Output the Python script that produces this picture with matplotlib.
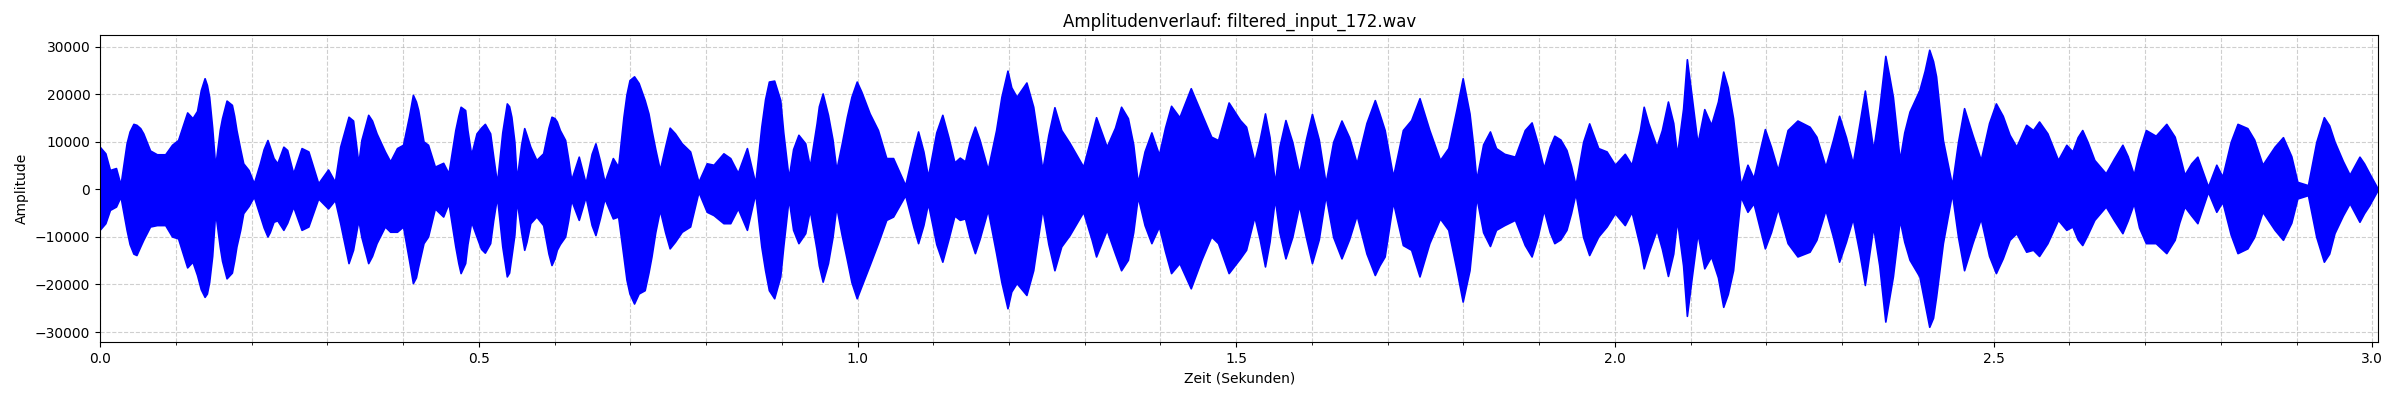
import numpy as np
import matplotlib
matplotlib.use('Agg')
import matplotlib.pyplot as plt
from matplotlib.ticker import MultipleLocator

# envelope of the waveform (time in s, amplitude in thousands)
zeit = [
    0.000, 0.007, 0.013, 0.021, 0.027, 0.035, 0.044, 0.048, 0.057, 0.066,
    0.075, 0.086, 0.095, 0.103, 0.115, 0.122, 0.128, 0.138, 0.144, 0.152,
    0.161, 0.167, 0.174, 0.180, 0.189, 0.196, 0.203, 0.211, 0.221, 0.229,
    0.234, 0.242, 0.247, 0.255, 0.266, 0.275, 0.288, 0.301, 0.310, 0.317,
    0.328, 0.334, 0.341, 0.345, 0.354, 0.365, 0.376,
    0.383, 0.392, 0.400, 0.413, 0.420, 0.427, 0.433, 0.442, 0.453, 0.460,
    0.469, 0.476, 0.482, 0.490, 0.497, 0.508, 0.515, 0.524, 0.537, 0.543,
    0.550, 0.560, 0.568, 0.576, 0.585, 0.596, 0.603, 0.614, 0.622, 0.632,
    0.641, 0.654, 0.666, 0.677, 0.684, 0.691, 0.699, 0.705, 0.711, 0.719,
    0.728, 0.739, 0.752,
    0.759, 0.768, 0.779, 0.790, 0.801, 0.810, 0.823, 0.832, 0.842, 0.854,
    0.865, 0.873, 0.883, 0.890, 0.898, 0.909, 0.922, 0.931, 0.937, 0.946,
    0.954, 0.961, 0.972, 0.986, 0.999, 1.005, 1.016, 1.027, 1.038, 1.047,
    1.063, 1.080, 1.093, 1.112, 1.128,
    1.135, 1.142, 1.155, 1.172, 1.183, 1.198, 1.210, 1.223, 1.232, 1.244,
    1.260, 1.269, 1.280, 1.298, 1.315, 1.329, 1.348, 1.357, 1.370, 1.388,
    1.398, 1.414, 1.425, 1.440, 1.454, 1.467, 1.476, 1.490, 1.505,
    1.513, 1.524, 1.538, 1.551, 1.565, 1.583, 1.600, 1.618, 1.639, 1.659,
    1.683, 1.696, 1.707, 1.720, 1.731, 1.742, 1.755, 1.769, 1.780, 1.799,
    1.808, 1.817, 1.835, 1.843, 1.854, 1.868, 1.881,
    1.890, 1.898, 1.906, 1.920, 1.936, 1.948, 1.966, 1.978, 1.989, 2.000,
    2.013, 2.022, 2.038, 2.055, 2.070, 2.082, 2.095, 2.109, 2.118, 2.127,
    2.143, 2.156, 2.166, 2.175, 2.183, 2.198, 2.215, 2.228, 2.241, 2.257,
    2.266, 2.278, 2.296, 2.314, 2.330, 2.341, 2.357, 2.367, 2.376, 2.389,
    2.402, 2.415, 2.424, 2.433, 2.445, 2.461, 2.472, 2.483, 2.503, 2.521,
    2.530, 2.543, 2.552, 2.560, 2.571, 2.585, 2.596, 2.604, 2.617, 2.633,
    2.648, 2.670, 2.685, 2.701, 2.714, 2.728, 2.739, 2.752, 2.769, 2.783,
    2.794, 2.802, 2.822, 2.835, 2.855, 2.882, 2.901, 2.915, 2.936, 2.950,
    2.970, 2.983, 2.996, 3.007,
]

oben_k = [
    8.9, 7.6, 4.1, 4.5, 1.0, 9.7, 13.8, 13.6, 11.8, 8.2,
    7.4, 7.4, 9.4, 10.4, 16.2, 15.0, 16.5, 23.4, 19.5, 4.8,
    15.0, 18.7, 17.8, 12.5, 5.5, 4.1, 1.3, 5.5, 10.4, 6.6,
    5.5, 9.0, 8.3, 3.4, 8.7, 8.0, 1.3, 4.2, 1.6, 9.0,
    15.3, 14.5, 5.5, 10.4, 15.7, 11.8, 8.0,
    5.9, 8.7, 9.4, 19.9, 16.7, 10.1, 9.4, 4.8, 5.6, 3.4,
    12.5, 17.4, 16.7, 7.3, 11.8, 13.8, 11.8, 1.3, 18.1, 15.3,
    2.0, 12.9, 9.0, 6.2, 7.6, 15.3, 14.3, 10.4, 2.0, 6.9,
    1.3, 9.7, 1.6, 6.6, 4.8, 15.3, 23.0, 23.8, 22.4, 18.8,
    12.5, 4.1, 13.0,
    11.8, 9.7, 8.0, 1.6, 5.5, 5.2, 7.6, 6.6, 3.5, 8.7,
    1.3, 13.2, 22.7, 22.9, 18.8, 2.4, 11.5, 9.7, 4.8, 13.9,
    20.2, 15.7, 4.1, 15.3, 22.7, 20.6, 16.0, 12.5, 6.6, 6.6,
    0.9, 12.2, 2.7, 15.7, 5.7,
    6.7, 5.9, 13.2, 4.2, 12.5, 25.0, 19.5, 22.5, 17.4, 4.1,
    17.3, 12.5, 9.8, 4.8, 15.2, 9.0, 17.4, 15.0, 1.4, 12.0,
    7.3, 17.6, 15.2, 21.3, 16.0, 11.1, 10.4, 18.3, 14.6,
    13.2, 5.9, 16.0, 1.3, 14.6, 3.4, 15.9, 1.3, 14.5, 5.5,
    18.8, 12.5, 2.7, 12.5, 14.6, 19.2, 12.5, 6.2, 8.7, 23.4,
    16.0, 2.0, 12.2, 8.7, 7.5, 6.9, 12.5,
    14.1, 9.7, 4.5, 11.3, 8.3, 0.9, 13.9, 8.7, 8.0, 5.2,
    7.5, 5.2, 17.4, 9.0, 18.5, 7.3, 27.4, 9.7, 16.9, 13.6,
    24.8, 15.0, 0.9, 5.2, 2.4, 12.7, 4.1, 12.5, 14.5, 13.2,
    11.1, 4.8, 15.5, 5.5, 20.8, 8.3, 28.1, 19.5, 6.2, 16.4,
    20.9, 29.4, 23.8, 10.4, 0.9, 17.1, 11.5, 6.2, 18.1, 11.5,
    9.0, 13.6, 12.5, 14.3, 11.8, 6.2, 9.4, 8.0, 12.5, 6.2,
    3.4, 9.4, 3.1, 12.5, 11.3, 13.8, 11.1, 3.1, 6.9, 0.6,
    5.2, 2.7, 13.8, 12.9, 5.2, 11.0, 1.6, 0.9, 15.2, 10.1,
    3.1, 6.9, 3.4, 0.2,
]

unten_k = [
    -8.4, -7.1, -4.3, -3.6, -1.5, -8.5, -13.5, -13.8, -10.6, -7.8,
    -7.5, -7.5, -9.9, -10.3, -16.4, -15.2, -18.0, -22.6, -19.5, -4.7,
    -15.0, -18.7, -17.5, -12.0, -5.0, -3.5, -1.5, -5.5, -9.9, -6.8,
    -6.5, -8.5, -7.0, -3.6, -8.5, -7.8, -1.9, -4.0, -2.2, -7.1,
    -15.5, -12.7, -6.4, -10.0, -15.5, -11.3, -7.8,
    -8.9, -8.9, -7.8, -19.7, -16.2, -11.3, -9.9, -4.0, -5.7, -2.9,
    -12.0, -17.6, -15.5, -6.8, -9.9, -13.3, -11.3, -1.5, -18.3, -14.1,
    -2.2, -12.7, -7.1, -5.7, -7.5, -15.9, -12.7, -9.9, -2.2, -6.4,
    -1.5, -9.6, -1.9, -6.1, -5.7, -14.1, -21.9, -24.0, -21.9, -21.2,
    -14.1, -4.3, -12.4,
    -11.0, -8.9, -7.8, -0.5, -4.7, -5.4, -7.1, -7.1, -4.0, -8.5,
    -0.8, -12.0, -21.2, -22.9, -18.3, -1.9, -11.3, -9.2, -4.3, -12.7,
    -19.4, -15.5, -3.6, -14.8, -22.9, -20.4, -15.9, -11.3, -6.4, -5.7,
    -1.2, -11.3, -2.9, -15.2, -5.5,
    -6.4, -6.1, -13.4, -4.3, -13.4, -25.0, -19.7, -22.2, -17.0, -4.0,
    -17.0, -12.0, -9.6, -4.7, -14.1, -8.5, -17.0, -14.8, -1.5, -11.3,
    -7.8, -17.6, -15.5, -20.8, -14.8, -9.9, -11.3, -17.6, -14.5,
    -12.7, -5.7, -16.2, -1.9, -14.5, -3.3, -15.5, -1.2, -14.5, -5.4,
    -18.0, -14.1, -2.6, -11.7, -12.7, -18.3, -11.3, -6.1, -8.5, -23.6,
    -17.0, -1.5, -11.9, -8.5, -7.5, -6.4, -11.7,
    -14.1, -9.9, -4.3, -11.3, -8.5, -0.8, -13.8, -9.9, -7.8, -5.0,
    -7.5, -4.7, -16.6, -8.5, -18.2, -6.4, -26.6, -9.2, -16.6, -14.1,
    -24.7, -17.0, -1.5, -4.7, -2.9, -12.4, -4.0, -11.3, -14.1, -13.1,
    -10.6, -4.3, -15.2, -6.1, -20.1, -7.8, -27.8, -18.3, -6.4, -14.8,
    -18.3, -28.9, -22.6, -11.3, -0.8, -17.0, -11.3, -6.1, -17.6, -10.6,
    -9.2, -13.1, -12.7, -14.0, -11.3, -6.4, -8.5, -7.8, -11.7, -6.4,
    -3.6, -9.2, -2.9, -11.3, -11.3, -13.4, -10.6, -3.6, -7.1, -0.5,
    -4.7, -2.6, -13.4, -12.4, -4.7, -10.6, -1.9, -1.2, -15.2, -9.2,
    -2.9, -6.8, -3.3, -0.1,
]

# extra points read on the flanks of the lobes
zeit_flanke = [
    0.039, 0.053, 0.133, 0.141, 0.148, 0.158, 0.177, 0.185, 0.216, 0.224, 0.359,
    0.408, 0.417, 0.473, 0.485, 0.503, 0.519, 0.531, 0.540, 0.547, 0.556,
    0.563, 0.592, 0.600, 0.607, 0.618, 0.649, 0.660, 0.695, 0.724, 0.733, 0.746,
    0.878, 0.902, 0.915, 0.949, 0.967, 0.979, 0.992, 1.074, 1.087, 1.104, 1.120,
    1.148, 1.161, 1.190, 1.203, 1.238, 1.252, 1.309, 1.340, 1.364, 1.379, 1.406,
    1.531, 1.544, 1.557, 1.574, 1.592, 1.609, 1.628, 1.649, 1.672, 1.689,
    1.791, 1.813, 1.826,
    1.914, 1.928, 1.942, 1.958, 2.033, 2.044, 2.062, 2.077, 2.090, 2.101,
    2.136, 2.149, 2.161, 2.191, 2.206,
    2.288, 2.305, 2.323, 2.349, 2.362, 2.382, 2.409, 2.420, 2.453, 2.494,
    2.512, 2.611, 2.624,
    2.659, 2.677, 2.692, 2.745, 2.761, 2.813, 2.844, 2.871, 2.893, 2.926,
    2.943, 2.961, 2.989,
]

oben_flanke_k = [
    12.2, 12.9, 20.9, 22.0, 13.0, 12.5, 15.5, 8.5, 8.5, 9.0, 14.5,
    15.5, 18.5, 15.5, 12.5, 13.0, 7.0, 12.0, 17.5, 10.0, 9.5,
    11.5, 13.0, 15.0, 12.5, 6.5, 7.5, 6.0, 20.0, 16.0, 8.5, 9.0,
    19.0, 12.0, 8.5, 17.5, 10.5, 9.5, 19.5, 8.5, 8.0, 12.0, 11.0,
    10.0, 10.5, 19.5, 21.5, 11.0, 11.5, 11.5, 13.0, 9.5, 8.0, 13.0,
    10.5, 11.0, 9.0, 10.0, 10.5, 10.5, 10.0, 11.0, 14.0, 16.0,
    17.0, 9.0, 9.5,
    9.0, 10.5, 5.0, 10.0, 12.5, 14.0, 12.5, 14.0, 17.0, 20.0,
    18.5, 21.5, 8.0, 8.0, 9.0,
    10.5, 11.0, 14.0, 17.0, 24.0, 12.0, 25.0, 27.0, 10.0, 14.0,
    15.5, 11.0, 10.0,
    6.5, 7.0, 8.0, 7.5, 5.5, 10.0, 10.5, 9.0, 7.0, 10.0,
    13.5, 6.0, 5.5,
]

unten_flanke_k = [
    -11.5, -12.0, -21.0, -21.9, -14.0, -12.0, -15.0, -8.5, -8.0, -9.0, -14.0,
    -15.0, -18.5, -15.5, -11.5, -12.5, -6.5, -12.0, -17.5, -9.5, -9.0,
    -11.0, -13.5, -14.5, -11.5, -6.5, -7.5, -6.0, -19.0, -17.5, -9.0, -9.0,
    -17.0, -12.0, -8.5, -16.0, -10.0, -9.5, -19.5, -8.0, -7.5, -11.5, -10.5,
    -10.0, -10.5, -19.5, -21.5, -10.5, -11.5, -10.5, -13.5, -9.0, -7.5, -13.0,
    -10.5, -11.0, -9.0, -10.0, -10.0, -10.5, -10.0, -10.5, -13.5, -16.0,
    -17.0, -9.0, -9.0,
    -9.0, -10.5, -5.0, -10.0, -12.0, -13.5, -12.5, -13.5, -16.0, -19.0,
    -18.5, -22.0, -9.0, -8.0, -9.0,
    -10.0, -11.0, -13.5, -16.0, -23.0, -11.0, -24.0, -27.0, -10.0, -14.0,
    -14.5, -10.5, -9.5,
    -6.5, -6.5, -8.0, -7.0, -5.5, -9.5, -10.0, -8.5, -7.0, -10.0,
    -13.5, -5.5, -5.0,
]

t = np.array(zeit + zeit_flanke)
oben = np.array(oben_k + oben_flanke_k) * 1000
unten = np.array(unten_k + unten_flanke_k) * 1000
order = np.argsort(t, kind='stable')
t, oben, unten = t[order], oben[order], unten[order]

fig, ax = plt.subplots(figsize=(24, 4), dpi=100)
fig.subplots_adjust(left=0.0417, right=0.991, top=0.9125, bottom=0.145)

ax.fill_between(t, unten, oben, color='blue', linewidth=1.2, edgecolor='blue')

ax.set_xlim(0, 3.008)
ax.set_ylim(-32100, 32500)
ax.xaxis.set_major_locator(MultipleLocator(0.5))
ax.xaxis.set_minor_locator(MultipleLocator(0.1))
ax.yaxis.set_major_locator(MultipleLocator(10000))

ax.grid(True, which='both', linestyle='--', color='#b0b0b0', alpha=0.6)
ax.set_axisbelow(True)

ax.set_title('Amplitudenverlauf: filtered_input_172.wav')
ax.set_xlabel('Zeit (Sekunden)')
ax.set_ylabel('Amplitude')

plt.savefig('out.png', dpi=100)
